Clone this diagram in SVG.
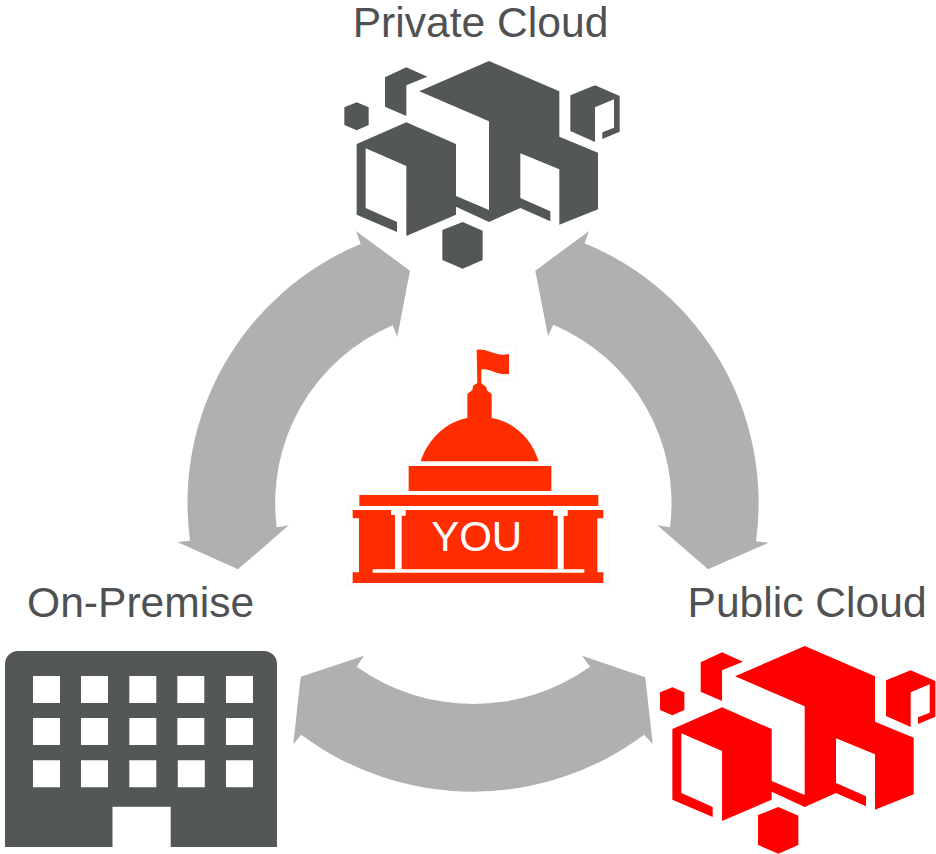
<svg xmlns="http://www.w3.org/2000/svg" width="936" height="854" viewBox="0 0 936 854">
<style>
.label{font-family:"Liberation Sans",Arial,sans-serif;font-size:42.6px;fill:#4f5152}
.arrow{fill:#b0b0b0}
.dark{fill:#535757}
.halo{fill:#fff;stroke:#e2e2e2;stroke-width:.8}
.cap{fill:#ff2d00}
</style>
<defs>
<path id="cube" d="M268 124L477 33L688 124V260L804 308V478L688 524V358L571 310V444L661 484V514L571 474L477 516L378 470V438L477 480V214ZM80 282L229 217L378 282V494L229 558V348L107 295V474L201 516V546L80 494ZM165 82L229 52L292 80L229 106V198L165 170ZM43 172L80 157L116 172V225L80 241L43 225ZM721 136L795 106L869 138V245L817 267V247L852 233V148L795 172V276L721 243ZM337 540L398 516L458 542V630L398 656L337 630Z"/>
</defs>
<rect width="936" height="854" fill="#fff"/>
<g id="connectors">
<path class="arrow" d="M356 231L410 270.7L397.3 336.7L392.7 325.3A193 193 0 0 0 276.7 527.3L288.7 525.3L238 569.3L177.3 542L190 540.7A280.4 280.4 0 0 1 360.7 244Z"/>
<path class="arrow" d="M589 231L535.3 270.7L548 336L553.3 324.7A193.7 193.7 0 0 1 670 527.3L657.3 525.3L708 569.3L768.7 542.7L756 541.3A280.8 280.8 0 0 0 584.7 243.3Z"/>
<path class="arrow" d="M364 655.7L300.7 676.7L293.3 744L301.3 734.7A286 286 0 0 0 644 734.7L652.7 744L645.3 677.3L582 655.7L590 666.7A201 201 0 0 1 356.7 666.7Z"/>
</g>
<g id="private-cloud">
<text class="label" x="480.5" y="36.7" text-anchor="middle">Private Cloud</text>
<use href="#cube" class="dark" transform="translate(330 50) scale(.33333)"/>
</g>
<g id="public-cloud">
<text class="label" x="687.5" y="617.3">Public Cloud</text>
<use href="#cube" fill="#ff0000" transform="translate(645.7 635) scale(.33333)"/>
</g>
<g id="on-premise">
<text class="label" x="27" y="617.3">On-Premise</text>
<path class="dark" fill-rule="evenodd" d="M18 651H264A13 13 0 0 1 277 664V847H170.700V806.700H112.500V847H5V664A13 13 0 0 1 18 651ZM33 676v27h27v-27zM81 676v27h27v-27zM129.300 676v27h27v-27zM177.300 676v27h27v-27zM226 676v27h27v-27zM33 718v27h27v-27zM81 718v27h27v-27zM129.300 718v27h27v-27zM177.300 718v27h27v-27zM226 718v27h27v-27zM33 760.300v27h27v-27zM81 760.300v27h27v-27zM129.300 760.300v27h27v-27zM177.800 760.300v27h27v-27zM226 760.300v27h27v-27z"/>
</g>
<g id="you">
<g transform="translate(340 340) scale(.33333)">
<path class="halo" d="M40 552V700H22V735H806V552H790V492H792V450H652V362H612C590 300 530 240 470 222L458 160L442 125L526 115V15L470 20L410 12L395 20V125L382 140L366 160L370 222C300 240 250 300 226 362H190V450H40V492H22V552Z"/>
<path class="cap" d="M410 30C440 22 465 52 507 42V102C470 106 450 84 424 88V130L438 140L442 152L455 162V234C520 245 575 295 596 364H242C265 295 320 245 382 234V162L397 150L400 136L412 130Z"/>
<rect class="cap" x="206" y="378" width="428" height="75"/>
<rect class="cap" x="58" y="465" width="717" height="33"/>
<path class="cap" d="M38 510H153V525H165V688H98V698H733V688H671V528H683V510H790V535H772V697H790V729H38V697H57V535H38Z"/>
<path class="cap" d="M197 510H640V527H653V688H185V527H197Z"/>
</g>
<text x="476.700" y="550.700" text-anchor="middle" style="font-family:'Liberation Sans',Arial,sans-serif;font-size:42px;fill:#fff">YOU</text>
</g>
</svg>
